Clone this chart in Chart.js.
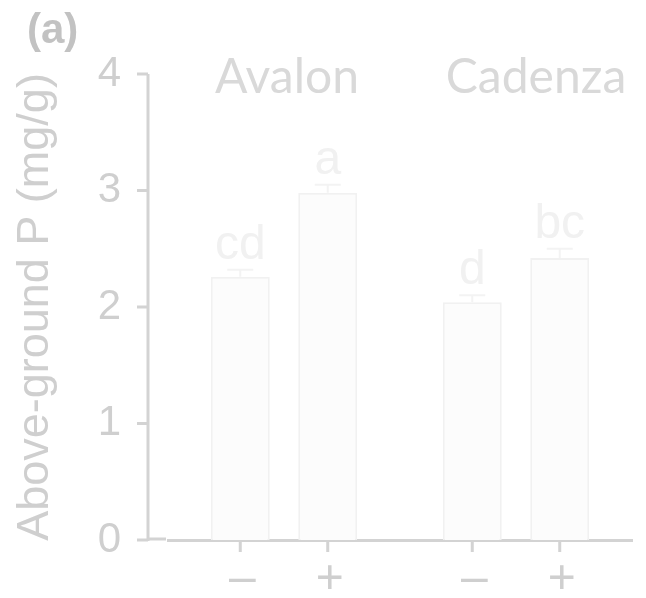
<!DOCTYPE html>
<html>
<head>
<meta charset="utf-8">
<script src="https://cdn.jsdelivr.net/npm/chart.js@4/dist/chart.umd.min.js"></script>
<style>
  html, body { margin: 0; padding: 0; background: #ffffff; }
  #wrap { width: 646px; height: 598px; }
  canvas { filter: blur(0.7px); }
</style>
</head>
<body>
<div id="wrap"><canvas id="c" width="646" height="598"></canvas></div>
<script>
// Cultivars (groups) and treatments
const cultivars = ["Avalon", "Cadenza"];
const treatments = ["–", "+"];

// Above-ground P (mg/g), one array per treatment, ordered as cultivars
const minusP = [2.26, 2.04];
const plusP  = [2.98, 2.42];

// Standard errors
const minusErr = [0.06, 0.06];
const plusErr  = [0.07, 0.08];

// Significance letters
const minusLetters = ["cd", "d"];
const plusLetters  = ["a", "bc"];

// Y-axis ticks
const yTicks = [0, 1, 2, 3, 4];

const SANS = "'Liberation Sans', Arial, sans-serif";
const HUM = "Lato, 'Open Sans', sans-serif";
const AXIS = "#d3d3d3";
const TXT = "#cfcfcf";
const BAR_FILL = "#fcfcfc";
const BAR_EDGE = "#f1f1f1";

const errs = [minusErr, plusErr];
const letters = [minusLetters, plusLetters];

const decorations = {
  id: "decorations",
  afterDatasetsDraw(chart) {
    const ctx = chart.ctx;
    const y = chart.scales.y;
    const x = chart.scales.x;
    const area = chart.chartArea;
    const axisX = area.left - 20;

    ctx.save();
    // y axis line with outward ticks
    ctx.strokeStyle = AXIS;
    ctx.lineWidth = 3;
    ctx.beginPath();
    ctx.moveTo(axisX, y.getPixelForValue(yTicks[yTicks.length - 1]));
    ctx.lineTo(axisX, y.getPixelForValue(0) + 1);
    yTicks.forEach(v => {
      const py = y.getPixelForValue(v);
      ctx.moveTo(axisX - 11, py);
      ctx.lineTo(axisX, py);
    });
    // short stub of the x axis between y axis and plot area
    ctx.moveTo(axisX, y.getPixelForValue(0) - 1);
    ctx.lineTo(area.left - 2, y.getPixelForValue(0) - 1);
    ctx.stroke();

    // error bars, x ticks, treatment labels and letters
    chart.data.datasets.forEach((ds, di) => {
      const meta = chart.getDatasetMeta(di);
      meta.data.forEach((bar, i) => {
        const v = ds.data[i];
        const e = errs[di][i];
        const top = y.getPixelForValue(v);
        const cap = y.getPixelForValue(v + e);

        ctx.strokeStyle = "#f3f3f3";
        ctx.lineWidth = 2;
        ctx.beginPath();
        ctx.moveTo(bar.x, top);
        ctx.lineTo(bar.x, cap);
        ctx.moveTo(bar.x - 13, cap);
        ctx.lineTo(bar.x + 13, cap);
        ctx.stroke();

        ctx.fillStyle = "#f1f1f1";
        ctx.font = "48px " + SANS;
        ctx.textAlign = "center";
        ctx.textBaseline = "alphabetic";
        ctx.fillText(letters[di][i], bar.x, cap - 11);

        const base = y.getPixelForValue(0);
        ctx.strokeStyle = AXIS;
        ctx.lineWidth = 3;
        ctx.beginPath();
        ctx.moveTo(bar.x, base);
        ctx.lineTo(bar.x, base + 12);
        ctx.stroke();

        ctx.fillStyle = TXT;
        ctx.font = "48px " + SANS;
        ctx.textBaseline = "middle";
        ctx.fillText(ds.label, bar.x + 2, base + 40);
      });
    });

    // cultivar headings
    ctx.fillStyle = "#d9d9d9";
    ctx.font = "48px " + HUM;
    ctx.textAlign = "center";
    ctx.textBaseline = "alphabetic";
    ctx.fillText(cultivars[0], x.getPixelForValue(0) + 3, 93);
    ctx.fillText(cultivars[1], x.getPixelForValue(1) + 20, 93);

    // panel label
    ctx.fillStyle = "#c2c2c2";
    ctx.font = "bold 42px " + SANS;
    ctx.textAlign = "left";
    ctx.fillText("(a)", 27, 43);
    ctx.restore();
  }
};

new Chart(document.getElementById("c"), {
  type: "bar",
  data: {
    labels: cultivars,
    datasets: [
      { label: treatments[0], data: minusP, backgroundColor: BAR_FILL, borderColor: BAR_EDGE },
      { label: treatments[1], data: plusP, backgroundColor: BAR_FILL, borderColor: BAR_EDGE }
    ]
  },
  options: {
    responsive: false,
    animation: false,
    devicePixelRatio: 1,
    layout: { padding: { left: 0, right: 14, top: 74, bottom: 0 } },
    datasets: {
      bar: {
        borderWidth: 2,
        categoryPercentage: 0.754,
        barPercentage: 0.674
      }
    },
    plugins: {
      legend: { display: false },
      tooltip: { enabled: false },
      title: { display: false },
      colors: { enabled: false }
    },
    scales: {
      x: {
        afterFit(s) { s.height = 58; },
        grid: { display: false },
        border: { display: true, color: AXIS, width: 3 },
        ticks: { display: false }
      },
      y: {
        min: 0,
        max: 4,
        afterFit(s) { s.width = 168; },
        afterBuildTicks(s) { s.ticks = yTicks.map(v => ({ value: v })); },
        grid: { display: false, drawTicks: true, tickLength: 44 },
        border: { display: false },
        ticks: {
          color: TXT,
          font: { family: SANS, size: 42 },
          padding: 3
        },
        title: {
          display: true,
          text: "Above-ground P (mg/g)",
          color: TXT,
          font: { family: SANS, size: 45 },
          padding: { top: 9, bottom: 0 }
        }
      }
    }
  },
  plugins: [decorations]
});
</script>
</body>
</html>
